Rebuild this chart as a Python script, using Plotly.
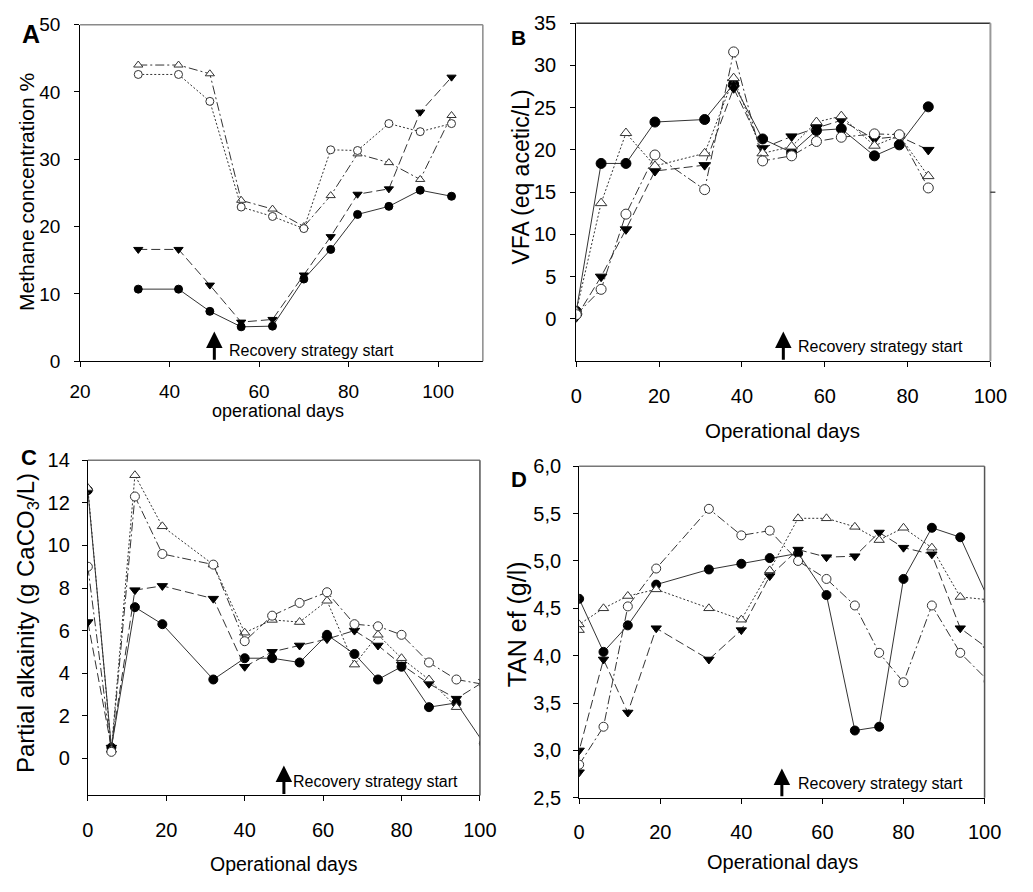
import plotly.graph_objects as go

W, H = 1033, 892

# ---- Panel A: methane concentration (%) ----
a_days = [33, 42, 49, 56, 63, 70, 76, 82, 89, 96, 103]
a_filled_circle = [10.7, 10.7, 7.4, 5.1, 5.2, 12.2, 16.6, 21.8, 23.0, 25.4, 24.5]
a_filled_tri = [16.6, 16.6, 11.3, 5.8, 6.2, 12.8, 18.5, 24.8, 25.6, 37.0, 42.2]
a_open_tri = [44.0, 44.0, 42.7, 23.9, 22.6, 20.0, 24.6, 30.8, 29.5, 27.0, 36.5]
a_open_circle = [42.6, 42.6, 38.6, 22.9, 21.5, 19.7, 31.4, 31.3, 35.3, 34.1, 35.3]

# ---- Panel B: VFA (eq acetic/L) ----
b_days = [0, 6, 12, 19, 31, 38, 45, 52, 58, 64, 72, 78, 85]
b_filled_circle = [0.9, 18.4, 18.4, 23.3, 23.6, 27.8, 21.3, 19.7, 22.3, 22.5, 19.3, 20.6, 25.1]
b_filled_tri = [0.2, 5.0, 10.6, 17.5, 18.2, 27.3, 20.2, 21.6, 22.6, 23.5, 21.3, 21.6, 20.0]
b_open_tri = [0.9, 13.7, 22.0, 18.1, 19.6, 28.5, 19.6, 20.4, 23.3, 24.0, 20.5, 21.7, 16.9]
b_open_circle = [0.5, 3.5, 12.4, 19.4, 15.3, 31.6, 18.7, 19.3, 21.0, 21.5, 21.9, 21.8, 15.5]

# ---- Panel C: partial alkalinity (g CaCO3/L) ----
c_days = [0, 6, 12, 19, 32, 40, 47, 54, 61, 68, 74, 80, 87, 94, 101]
c_filled_circle = [12.6, 0.5, 7.1, 6.3, 3.7, 4.7, 4.7, 4.5, 5.8, 4.9, 3.7, 4.3, 2.4, 2.6, 0.7]
c_filled_tri = [6.4, 0.5, 7.9, 8.1, 7.5, 4.3, 5.0, 5.3, 5.6, 6.0, 5.3, 4.4, 3.5, 2.8, 3.6]
c_open_tri_days = [0, 6, 12, 19, 32, 40, 47, 54, 61, 68, 74, 80, 87, 94]
c_open_tri = [12.7, 0.4, 13.3, 10.9, 9.1, 5.9, 6.5, 6.4, 7.4, 4.4, 5.8, 4.7, 3.7, 2.4]
c_open_circle = [9.0, 0.3, 12.3, 9.6, 9.1, 5.5, 6.7, 7.3, 7.8, 6.3, 6.2, 5.8, 4.5, 3.7, 3.47]

# ---- Panel D: TAN ef (g/l) ----
d_days = [0, 6, 12, 19, 32, 40, 47, 54, 61, 68, 74, 80, 87, 94, 101]
d_filled_circle = [4.60, 4.04, 4.32, 4.75, 4.91, 4.97, 5.03, 5.08, 4.64, 3.21, 3.25, 4.81, 5.35, 5.25, 4.59]
d_tri_days = [0, 0, 6, 12, 19, 32, 40, 47, 54, 61, 68, 74, 80, 87, 94, 101]
d_filled_tri = [2.77, 3.00, 3.96, 3.40, 4.29, 3.96, 4.27, 4.84, 5.12, 5.04, 5.05, 5.30, 5.14, 5.07, 4.29, 4.07]
d_open_tri = [4.27, 4.33, 4.50, 4.63, 4.70, 4.50, 4.38, 4.90, 5.45, 5.45, 5.36, 5.22, 5.35, 5.14, 4.62, 4.59]
d_open_circle = [2.85, 3.25, 4.52, 4.92, 5.55, 5.27, 5.32, 5.00, 4.81, 4.53, 4.03, 3.72, 4.53, 4.03, 3.73]

d_ticks = [2.5, 3.0, 3.5, 4.0, 4.5, 5.0, 5.5, 6.0]
d_ticktext = ["2,5", "3,0", "3,5", "4,0", "4,5", "5,0", "5,5", "6,0"]

FONT = "Liberation Sans, Arial, sans-serif"
LINE = "#333333"

SOLID = "solid"
DASH = "9px,4px"
DASHDOT = "9px,3px,2px,3px"
DOT = "2px,2px"

# plot boxes in pixels: left, right, top, bottom
boxes = {
    "A": (71, 485, 14, 359),
    "B": (581, 1006.7, 12.5, 359),
    "C": (79, 482, 460.7, 804.3),
    "D": (584, 1000.7, 466.7, 806.7),
}

fig = go.Figure()


def px_dom(box):
    l, r, t, b = box
    return [l / W, r / W], [1 - b / H, 1 - t / H]


def add_series(xref, yref, x, y, symbol, filled, dash, size):
    fig.add_trace(go.Scatter(
        x=x, y=y, xaxis=xref, yaxis=yref, mode="lines+markers",
        line=dict(color=LINE, width=1, dash=dash),
        marker=dict(symbol=symbol, size=size,
                    color="black" if filled else "white",
                    line=dict(color="black" if filled else "#333333", width=1)),
        showlegend=False, cliponaxis=True,
    ))


# Panel A
add_series("x", "y", a_days, a_filled_circle, "circle", True, SOLID, 8)
add_series("x", "y", a_days, a_filled_tri, "triangle-down", True, DASH, 8)
add_series("x", "y", a_days, a_open_tri, "triangle-up", False, DASHDOT, 8)
add_series("x", "y", a_days, a_open_circle, "circle", False, DOT, 8)

# Panel B
add_series("x2", "y2", b_days, b_filled_circle, "circle", True, SOLID, 10)
add_series("x2", "y2", b_days, b_filled_tri, "triangle-down", True, DASH, 10)
add_series("x2", "y2", b_days, b_open_tri, "triangle-up", False, DOT, 10)
add_series("x2", "y2", b_days, b_open_circle, "circle", False, DASHDOT, 10)

# Panel C
add_series("x3", "y3", c_days, c_filled_circle, "circle", True, SOLID, 9)
add_series("x3", "y3", c_days, c_filled_tri, "triangle-down", True, DASH, 9)
add_series("x3", "y3", c_open_tri_days, c_open_tri, "triangle-up", False, DOT, 9)
add_series("x3", "y3", c_days, c_open_circle, "circle", False, DASHDOT, 9)

# Panel D
add_series("x4", "y4", d_days, d_filled_circle, "circle", True, SOLID, 9)
add_series("x4", "y4", d_tri_days, d_filled_tri, "triangle-down", True, DASH, 9)
add_series("x4", "y4", d_tri_days, d_open_tri, "triangle-up", False, DOT, 9)
add_series("x4", "y4", d_days, d_open_circle, "circle", False, DASHDOT, 9)


def axis(domain, rng, tickvals, anchor, ticktext=None, standoff=4, fsize=20):
    d = dict(domain=domain, range=rng, tickvals=tickvals, showgrid=False,
             zeroline=False, showline=True, linecolor="black", linewidth=1,
             ticks="outside", ticklen=5, tickcolor="black", tickwidth=1,
             tickfont=dict(family=FONT, size=fsize, color="black"),
             ticklabelstandoff=standoff, fixedrange=True, anchor=anchor)
    if ticktext is not None:
        d["ticktext"] = ticktext
    return d


xa, ya = px_dom(boxes["A"])
xb, yb = px_dom(boxes["B"])
xc, yc = px_dom(boxes["C"])
xd, yd = px_dom(boxes["D"])

fig.update_layout(
    width=W, height=H, margin=dict(l=0, r=0, t=0, b=0),
    paper_bgcolor="white", plot_bgcolor="white",
    xaxis=axis(xa, [20, 110], [20, 40, 60, 80, 100], "y", standoff=8, fsize=19),
    yaxis=axis(ya, [0, 50], [0, 10, 20, 30, 40, 50], "x", standoff=10, fsize=19),
    xaxis2=axis(xb, [0, 100], [0, 20, 40, 60, 80, 100], "y2", standoff=12),
    yaxis2=axis(yb, [-5, 35], [0, 5, 10, 15, 20, 25, 30, 35], "x2", standoff=10),
    xaxis3=axis(xc, [0, 100], [0, 20, 40, 60, 80, 100], "y3", standoff=12),
    yaxis3=axis(yc, [-1.75, 14], [0, 2, 4, 6, 8, 10, 12, 14], "x3", standoff=8),
    xaxis4=axis(xd, [0, 100], [0, 20, 40, 60, 80, 100], "y4", standoff=11),
    yaxis4=axis(yd, [2.5, 6.0], d_ticks, "x4", d_ticktext, standoff=8),
)

# frame lines on top and right of each panel
frames = [("x", "y", "#8a8a8a", "#8a8a8a", 1.5),
          ("x2", "y2", "#333333", "#999999", 2),
          ("x3", "y3", "#777777", "#555555", 1.5),
          ("x4", "y4", "#777777", "#555555", 1.5)]
for xr, yr, top_c, right_c, rw in frames:
    fig.add_shape(type="line", xref=f"{xr} domain", yref=f"{yr} domain",
                  x0=0, x1=1, y0=1, y1=1, line=dict(color=top_c, width=1.5))
    fig.add_shape(type="line", xref=f"{xr} domain", yref=f"{yr} domain",
                  x0=1, x1=1, y0=0, y1=1, line=dict(color=right_c, width=rw))
# small tick on the right side of panel B
fig.add_shape(type="line", xref="x2 domain", yref="y2", x0=1, x1=1.012, y0=15, y1=15,
              line=dict(color="black", width=1))

# recovery strategy arrows and labels
arrows = [("x", "y", 0, 4.4, 52.8, 1.64),
          ("x2", "y2", -5, -1.5, 53.1, -3.3),
          ("x3", "y3", -1.75, -0.34, 51.9, -1.1),
          ("x4", "y4", 2.5, 2.81, 53.5, 2.65)]
for xr, yr, y0, y1, tx, ty in arrows:
    fig.add_annotation(x=50, y=y1, ax=50, ay=y0, xref=xr, yref=yr, axref=xr, ayref=yr,
                       text="", showarrow=True, arrowhead=2, arrowsize=1.1,
                       arrowwidth=3, arrowcolor="black", standoff=0, startstandoff=0)
    fig.add_annotation(x=tx, y=ty, xref=xr, yref=yr, text="Recovery strategy start",
                       showarrow=False, xanchor="left", yanchor="middle",
                       font=dict(family=FONT, size=16, color="black"))


def ptext(x, y, text, size, angle=0, bold=False):
    if bold:
        text = f"<b>{text}</b>"
    fig.add_annotation(x=x / W, y=1 - y / H, xref="paper", yref="paper", text=text,
                       showarrow=False, xanchor="center", yanchor="middle",
                       textangle=angle, font=dict(family=FONT, size=size, color="black"))


# panel letters
ptext(21, 24, "A", 25, bold=True)
ptext(522, 27, "B", 21, bold=True)
ptext(19, 458, "C", 22, bold=True)
ptext(522, 480, "D", 22, bold=True)

# axis titles
ptext(16, 186, "Methane concentration %", 21, angle=-90)
ptext(274, 410, "operational days", 18)
ptext(524, 170, "VFA (eq acetic/L)", 23, angle=-90)
ptext(793, 430, "Operational days", 20.5)
ptext(17, 628, "Partial alkainity (g CaCO<sub>3</sub>/L)", 24, angle=-90)
ptext(281, 875, "Operational days", 19.5)
ptext(521, 629, "TAN ef (g/l)", 25, angle=-90)
ptext(793, 873, "Operational days", 20)

fig.write_html("out.html", post_script="document.body.style.margin='0px';")
